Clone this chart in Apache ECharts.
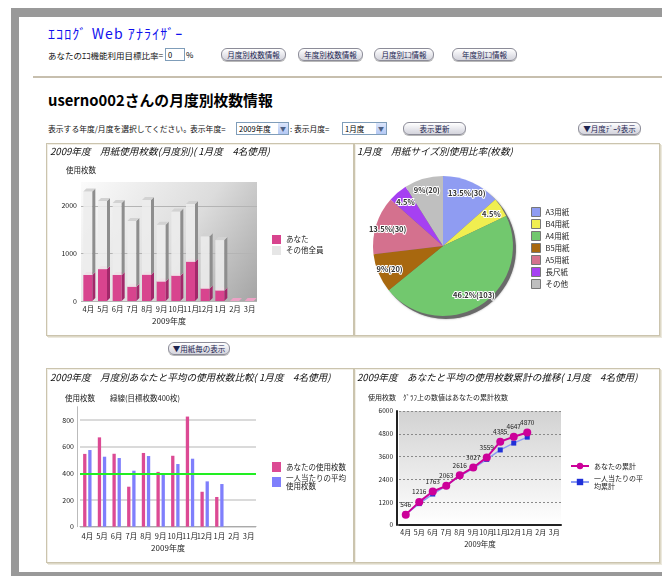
<!DOCTYPE html>
<html><head><meta charset="utf-8">
<script src="https://cdn.jsdelivr.net/npm/echarts@6/dist/echarts.min.js"></script>
<style>
body{margin:0;width:662px;height:576px;overflow:hidden;background:#fff;font-family:"Noto Sans CJK JP",sans-serif;position:relative}
.a{position:absolute;white-space:nowrap}
.btn{position:absolute;height:11px;border:1px solid #8c8c98;border-radius:6px;background:linear-gradient(#ffffff,#e4e4ea 60%,#d4d4dc);font-size:7.5px;line-height:11px;text-align:center;color:#1c2450;white-space:nowrap;box-shadow:0 1px 0 #b8b8b8}
.sel{position:absolute;height:11px;border:1px solid #7f9db9;background:#fff;font-size:7.5px;line-height:11px;padding-left:2px;color:#000}
.sel i{position:absolute;right:0;top:0;width:10px;height:11px;background:linear-gradient(#dce6fb,#b4c8f4);font-style:normal;font-size:6px;line-height:11px;text-align:center;color:#4d6185}
.panel{position:absolute;border:1px solid #cbc4ae;box-shadow:inset 1px 1px 0 #f2efe6,1px 1px 0 #ddd8c6,2px 2px 0 #ece9de}
#c{position:absolute;left:0;top:0;width:662px;height:576px;z-index:5}
</style></head>
<body>
<div class="a" style="left:11px;top:8px;width:651px;height:568px;background:#999"></div>
<div class="a" style="left:19px;top:17px;width:643px;height:555px;background:#fff"></div>
<div class="a" style="left:48px;top:23px;font-size:14px;color:#1010ee;letter-spacing:1.1px">ｴｺﾛｸﾞ Web ｱﾅﾗｲｻﾞｰ</div>
<div class="a" style="left:48px;top:49px;font-size:8.5px;color:#111">あなたのｴｺ機能利用目標比率=</div>
<div class="a" style="left:165px;top:48px;width:16px;height:11px;border:1px solid #7f9db9;font-size:7.5px;line-height:11px;padding-left:2px">0</div>
<div class="a" style="left:186px;top:49px;font-size:8px">%</div>
<div class="btn" style="left:221px;top:48px;width:63px">月度別枚数情報</div>
<div class="btn" style="left:298px;top:48px;width:63px">年度別枚数情報</div>
<div class="btn" style="left:374px;top:48px;width:58px">月度別ｴｺ情報</div>
<div class="btn" style="left:452px;top:48px;width:63px">年度別ｴｺ情報</div>
<div class="a" style="left:33px;top:76px;width:629px;height:2px;background:#c7bfae"></div>
<div class="a" style="left:48px;top:89px;font-size:14.8px;font-weight:bold;color:#000">userno002さんの月度別枚数情報</div>
<div class="a" style="left:48px;top:123px;font-size:7.8px;color:#111">表示する年度/月度を選択してください。</div>
<div class="a" style="left:190px;top:123px;font-size:7.8px;color:#111">表示年度=</div>
<div class="sel" style="left:236px;top:122px;width:49px">2009年度<i>▼</i></div>
<div class="a" style="left:290px;top:123px;font-size:7.8px;color:#111">: 表示月度=</div>
<div class="sel" style="left:342px;top:122px;width:41px">1月度<i>▼</i></div>
<div class="btn" style="left:403px;top:122px;width:61px">表示更新</div>
<div class="btn" style="left:578px;top:122px;width:61px">▼月度ﾃﾞｰﾀ表示</div>
<div class="panel" style="left:46px;top:143px;width:306px;height:191px"></div>
<div class="panel" style="left:354px;top:143px;width:304px;height:191px"></div>
<div class="btn" style="left:168px;top:342px;width:60px">▼用紙毎の表示</div>
<div class="panel" style="left:46px;top:368px;width:306px;height:193px"></div>
<div class="panel" style="left:354px;top:368px;width:304px;height:193px"></div>
<div id="c"></div>
<script>
// ---- data ----
const months = ['4月','5月','6月','7月','8月','9月','10月','11月','12月','1月','2月','3月'];
const yourSheets = [546, 670, 547, 300, 553, 411, 532, 826, 262, 223, null, null];
const othersSheets = [1754, 1430, 1513, 1380, 1567, 1189, 1348, 1214, 1098, 1057, null, null];
const avgSheets = [575, 525, 515, 420, 530, 400, 470, 510, 340, 320, null, null];
const yourCumulative = [546, 1216, 1763, 2063, 2616, 3027, 3559, 4385, 4647, 4870, null, null];
const avgCumulative = [575, 1125, 1630, 2065, 2580, 2985, 3455, 3950, 4310, 4625, null, null];
const sizeNames = ['A3用紙','B4用紙','A4用紙','B5用紙','A5用紙','長尺紙','その他'];
const sizeCounts = [30, 10, 103, 20, 30, 10, 20];
const sizeColors = ['#8f9cf2','#f0ee50','#72c86e','#a8680f','#d4718e','#a640f2','#bfbfbf'];
const targetSheets = 400;

const FONT = '"Noto Sans CJK JP", sans-serif';
const chart = echarts.init(document.getElementById('c'), null, {renderer:'canvas'});

function bar3d(c){
  return function(params, api){
    const i = api.value(0), b = api.value(1), t = api.value(2);
    const p0 = api.coord([i, b]), p1 = api.coord([i, t]);
    const w = 9, d = 3;
    const x = p0[0] - 5, yb = p0[1], yt = p1[1];
    const ch = [];
    if (yb - yt > 0.5) {
      ch.push({type:'rect', shape:{x:x, y:yt, width:w, height:yb-yt}, style:{fill:c.front}});
      ch.push({type:'polygon', shape:{points:[[x+w,yt],[x+w+d,yt-d],[x+w+d,yb-d],[x+w,yb]]}, style:{fill:c.side}});
    }
    if (c.alwaysTop || yb - yt > 0.5)
      ch.push({type:'polygon', shape:{points:[[x,yt],[x+d,yt-d],[x+w+d,yt-d],[x+w,yt]]}, style:{fill:c.top}});
    return {type:'group', children:ch};
  };
}
const pinkData = months.map((m,i)=>[i, 0, yourSheets[i] || 0]);
const grayData = months.map((m,i)=>[i, yourSheets[i] || 0, (yourSheets[i] || 0) + (othersSheets[i] || 0)]);
const total = sizeCounts.reduce((a,b)=>a+b,0);
const pieData = sizeNames.map((n,i)=>({name:n, value:sizeCounts[i], itemStyle:{color:sizeColors[i]}}));

const plain = v => String(v);
const axisLbl = {fontSize:7.5, color:'#222', fontFamily:FONT};
const titleStyle = {fontSize:9.6, fontStyle:'italic', fontWeight:'normal', color:'#111', fontFamily:FONT};
const smallTitle = {fontSize:7.5, fontWeight:'normal', color:'#222', fontFamily:FONT};

chart.setOption({
  backgroundColor:'transparent',
  animation:false,
  textStyle:{fontFamily:FONT},
  title:[
    {text:'2009年度　用紙使用枚数(月度別)( 1月度　4名使用)', left:50, top:147, padding:0, textStyle:titleStyle},
    {text:'1月度　用紙サイズ別使用比率(枚数)', left:357, top:147, padding:0, textStyle:titleStyle},
    {text:'2009年度　月度別あなたと平均の使用枚数比較( 1月度　4名使用)', left:50, top:373, padding:0, textStyle:titleStyle},
    {text:'2009年度　あなたと平均の使用枚数累計の推移( 1月度　4名使用)', left:357, top:373, padding:0, textStyle:titleStyle},
    {text:'使用枚数', left:66, top:166, padding:0, textStyle:smallTitle},
    {text:'使用枚数　　緑線(目標枚数400枚)', left:65, top:394, padding:0, textStyle:smallTitle},
    {text:'使用枚数　ｸﾞﾗﾌ上の数値はあなたの累計枚数', left:368, top:394, padding:0, textStyle:{...smallTitle, fontSize:7}}
  ],
  grid:[
    {left:81, top:182, width:176, height:119, show:true, borderWidth:0,
     backgroundColor:new echarts.graphic.LinearGradient(0,0,1,1,[{offset:0,color:'#fbfbfb'},{offset:0.55,color:'#dcdcdc'},{offset:1,color:'#a4a4a4'}])},
    {left:80, top:406.7, width:176, height:120},
    {left:399, top:411, width:162, height:114, show:true, borderWidth:0,
     backgroundColor:new echarts.graphic.LinearGradient(0,0,0,1,[{offset:0,color:'#d2d2d2'},{offset:1,color:'#ffffff'}])}
  ],
  xAxis:[
    {gridIndex:0, type:'category', data:months, axisLine:{show:false}, axisTick:{show:false},
     axisLabel:{...axisLbl, margin:4, interval:0}, name:'2009年度', nameLocation:'middle', nameGap:16, nameTextStyle:{fontSize:8, color:'#222'}},
    {gridIndex:1, type:'category', data:months, axisLine:{lineStyle:{color:'#aaa'}}, axisTick:{show:false},
     axisLabel:{...axisLbl, margin:6, interval:0}, name:'2009年度', nameLocation:'middle', nameGap:17, nameTextStyle:{fontSize:8, color:'#222'}},
    {gridIndex:2, type:'category', data:months, axisLine:{lineStyle:{color:'#222', width:2}}, axisTick:{show:false},
     axisLabel:{...axisLbl, fontSize:7, margin:4, interval:0}, name:'2009年度', nameLocation:'middle', nameGap:15, nameTextStyle:{fontSize:7.5, color:'#222'}}
  ],
  yAxis:[
    {gridIndex:0, type:'value', min:0, max:2500, interval:1000, axisLine:{show:false}, axisTick:{show:false},
     axisLabel:{...axisLbl, fontSize:7, margin:4, showMaxLabel:false, formatter:plain}, splitLine:{showMaxLine:false, lineStyle:{color:'#b4b4b4'}}},
    {gridIndex:1, type:'value', min:0, max:900, interval:200, offset:3, axisLine:{show:true, lineStyle:{color:'#bbb'}}, axisTick:{show:false},
     axisLabel:{...axisLbl, fontSize:7, margin:3, showMaxLabel:false, formatter:plain}, splitLine:{showMaxLine:false, lineStyle:{color:'#dadada', width:2}}},
    {gridIndex:2, type:'value', min:0, max:6000, interval:1200, offset:2, axisLine:{show:true, lineStyle:{color:'#222', width:2}}, axisTick:{show:false},
     axisLabel:{...axisLbl, fontSize:6.5, margin:4, formatter:plain}, splitLine:{lineStyle:{color:'#8a8a8a', type:[2,2]}}}
  ],
  legend:[
    {data:['あなた','その他全員'], orient:'vertical', left:272, top:235, itemWidth:9, itemHeight:9, itemGap:2, padding:0,
     textStyle:{fontSize:7.5, color:'#222'}, icon:'rect'},
    {data:sizeNames, orient:'vertical', left:531, top:207, itemWidth:9, itemHeight:9, itemGap:2, padding:0,
     textStyle:{fontSize:7.5, color:'#222'}, icon:'rect', itemStyle:{borderColor:'#777', borderWidth:1}},
    {data:['あなたの使用枚数','一人当たりの平均\n使用枚数'], orient:'vertical', left:272, top:462, itemWidth:9, itemHeight:10, itemGap:2, padding:0,
     textStyle:{fontSize:7.5, color:'#222', lineHeight:8}, icon:'rect'},
    {data:['あなたの累計','一人当たりの平\n均累計'], orient:'vertical', left:570, top:462, itemWidth:18, itemHeight:8, itemGap:4, padding:0,
     textStyle:{fontSize:7, color:'#222', lineHeight:8}}
  ],
  series:[
    {name:'あなた', type:'custom', xAxisIndex:0, yAxisIndex:0, data:pinkData, renderItem:bar3d({front:'#d8448e', side:'#a2286a', top:'#eda2c6', alwaysTop:true}),
     itemStyle:{color:'#d8448e'}, encode:{x:0, y:[1,2]}, z:2},
    {name:'その他全員', type:'custom', xAxisIndex:0, yAxisIndex:0, data:grayData, renderItem:bar3d({front:'rgba(236,236,236,0.86)', side:'#8e8e8e', top:'#d2d2d2'}),
     itemStyle:{color:'#e6e6e6'}, encode:{x:0, y:[1,2]}, z:3},
    {name:'A3用紙_shadow', type:'pie', center:[446,249], radius:70, silent:true, z:1, label:{show:false}, legendHoverLink:false,
     data:sizeCounts.map((v,i)=>({name:'s'+i, value:v})), itemStyle:{color:'#6a6a6a', shadowBlur:2, shadowColor:'rgba(0,0,0,0.4)'}},
    {name:'用紙サイズ', type:'pie', center:[443,246], radius:70, z:2, data:pieData, label:{show:false}, labelLine:{show:false},
     itemStyle:{borderWidth:0}},
    {name:'用紙サイズラベル', type:'pie', center:[443,246], radius:[40,70], z:3, silent:true,
     data:sizeNames.map((n,i)=>({name:n, value:sizeCounts[i]})), itemStyle:{color:'rgba(0,0,0,0)'},
     label:{show:true, position:'inside', fontSize:7.5, fontWeight:'bold', color:'#333', textBorderColor:'#fff', textBorderWidth:2,
       formatter:p=>{ const pc = Math.round(p.value/total*1000)/10; return pc < 5 ? pc+'%' : pc+'%('+p.value+')'; }},
     labelLine:{show:false}},
    {name:'あなたの使用枚数', type:'bar', xAxisIndex:1, yAxisIndex:1, data:yourSheets, barWidth:3.3, barGap:'55%',
     itemStyle:{color:'#dc4a94'},
     markLine:{silent:true, symbol:'none', label:{show:false}, lineStyle:{color:'#22ee22', width:2, type:'solid'}, data:[{yAxis:targetSheets}]}},
    {name:'一人当たりの平均\n使用枚数', type:'bar', xAxisIndex:1, yAxisIndex:1, data:avgSheets, barWidth:3.3, itemStyle:{color:'#7f7ffc'}},
    {name:'あなたの累計', type:'line', xAxisIndex:2, yAxisIndex:2, data:yourCumulative, z:4,
     lineStyle:{color:'#cc0099', width:2}, itemStyle:{color:'#cc0099'}, symbol:'circle', symbolSize:8,
     label:{show:true, position:'top', distance:3, fontSize:6.5, color:'#222'}},
    {name:'一人当たりの平\n均累計', type:'line', xAxisIndex:2, yAxisIndex:2, data:avgCumulative, z:3,
     lineStyle:{color:'#8c9cf4', width:1.5}, itemStyle:{color:'#2030d8'}, symbol:'rect', symbolSize:5}
  ]
});
</script>
</body></html>
